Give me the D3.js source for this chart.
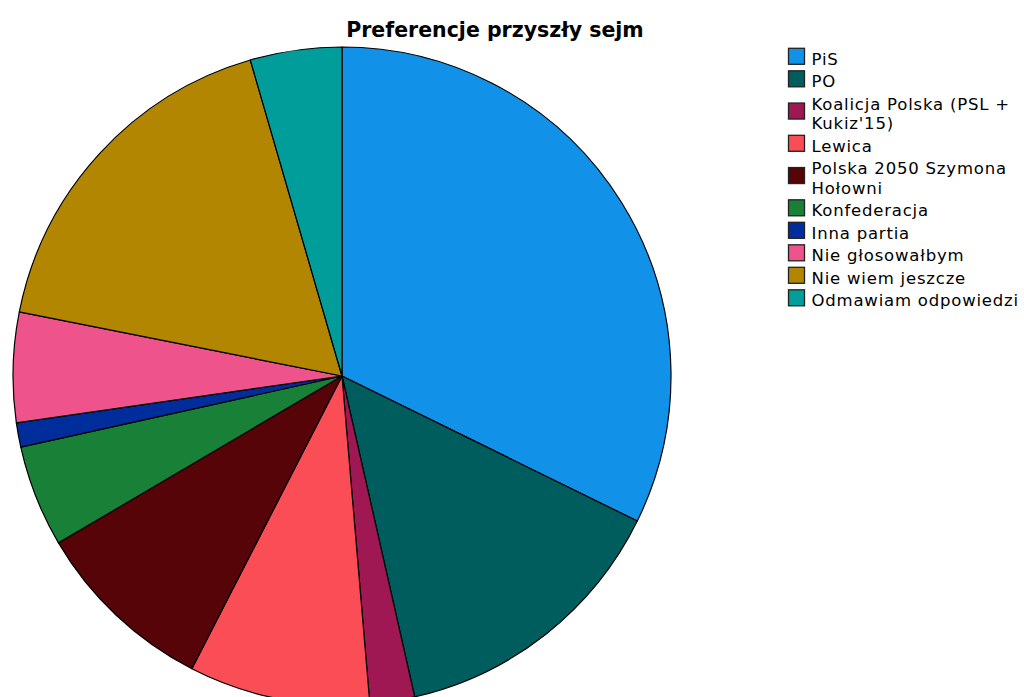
<!DOCTYPE html>
<html><head><meta charset="utf-8">
<script src="https://cdn.jsdelivr.net/npm/d3@7"></script>
<style>body{margin:0;background:#fff}svg{display:block}</style>
</head><body>
<svg id="chart" width="1024" height="697"></svg>
<script>
const categories = ["PiS","PO","Koalicja Polska (PSL + Kukiz'15)","Lewica","Polska 2050 Szymona Hołowni","Konfederacja","Inna partia","Nie głosowałbym","Nie wiem jeszcze","Odmawiam odpowiedzi"];
const legendLines = [["PiS"],["PO"],["Koalicja Polska (PSL +","Kukiz'15)"],["Lewica"],["Polska 2050 Szymona","Hołowni"],["Konfederacja"],["Inna partia"],["Nie głosowałbym"],["Nie wiem jeszcze"],["Odmawiam odpowiedzi"]];
const values = [32.3, 14.2, 2.2, 8.9, 9.0, 5.0, 1.2, 5.4, 17.4, 4.5];
const colors = ["#1192e8","#005d5d","#9f1853","#fa4d56","#570408","#198038","#002d9c","#ee538b","#b28600","#009d9a"];
const title = "Preferencje przyszły sejm";

const svg = d3.select("#chart");
const cx = 342, cy = 376, r = 329;
const color = d3.scaleOrdinal().domain(categories).range(colors);
const pie = d3.pie().sort(null).value(d => d.v);
const arc = d3.arc().innerRadius(0).outerRadius(r);
const data = categories.map((c,i)=>({c, v: values[i]}));

svg.append("g").attr("transform",`translate(${cx},${cy})`)
  .selectAll("path").data(pie(data)).join("path")
  .attr("d", arc).attr("fill", d => color(d.data.c))
  .attr("stroke","#000").attr("stroke-width",1.2).attr("stroke-linejoin","round");

svg.append("text").attr("x",495).attr("y",37).attr("text-anchor","middle")
  .attr("font-family","DejaVu Sans").attr("font-weight","bold").attr("font-size",20.5)
  .attr("fill","#000").text(title);

const lg = svg.append("g").attr("font-family","DejaVu Sans").attr("font-size",16.5)
  .attr("letter-spacing","0.8px").attr("fill","#000");
let y = 48.3;
const itemStep = 22.5, lineGap = 19.5;
legendLines.forEach((lines,i)=>{
  const top = y;
  const sw = top + (lines.length-1)*lineGap/2;
  lg.append("rect").attr("x",788.5).attr("y",sw).attr("width",16).attr("height",16)
    .attr("fill",colors[i]).attr("stroke","#222").attr("stroke-width",1.3);
  lines.forEach((t,j)=>{
    lg.append("text").attr("x",811.5).attr("y",top+16.5+j*lineGap).text(t);
  });
  y += itemStep + (lines.length-1)*lineGap;
});
</script>
</body></html>
